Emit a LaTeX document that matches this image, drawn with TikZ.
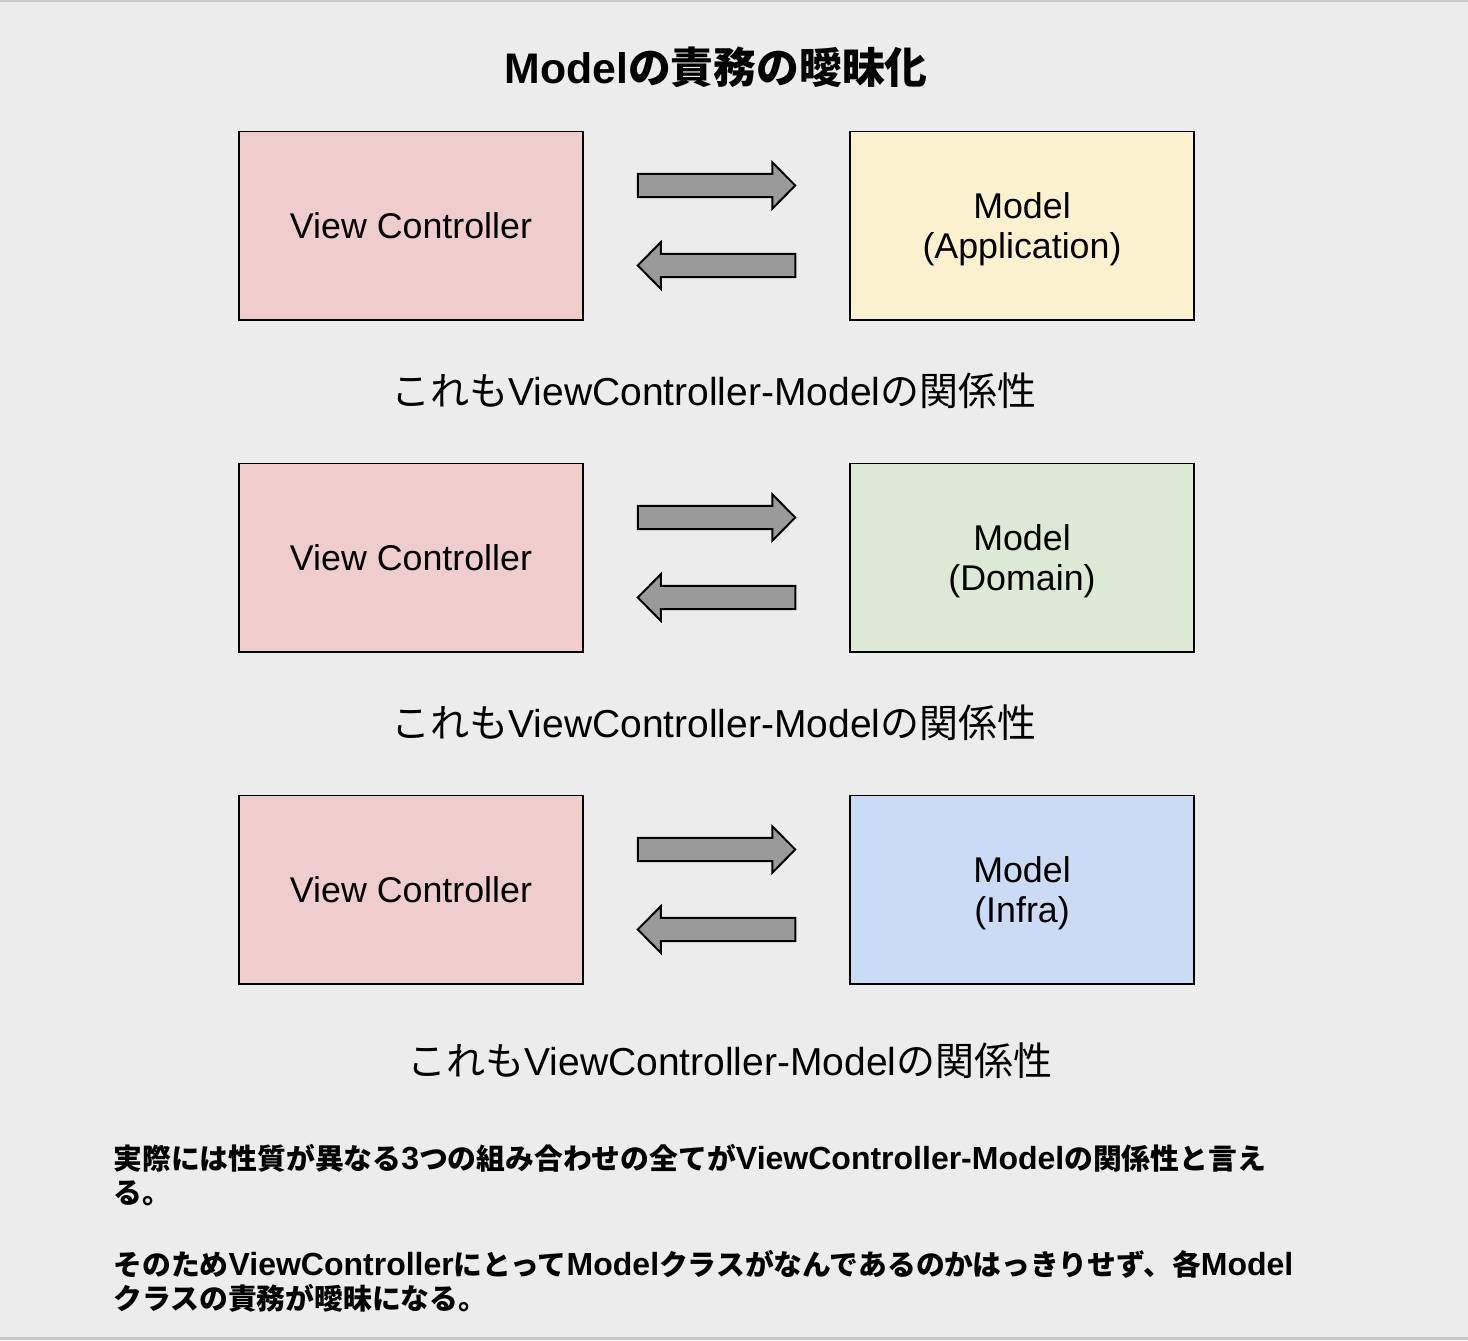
\documentclass[tikz,border=0pt]{standalone}
\usepackage{fontspec}
\setmainfont{Liberation Sans}
\newfontfamily\cjk{Noto Sans CJK JP}
\usepackage{xcolor}
\usetikzlibrary{calc}
\definecolor{pagebg}{HTML}{ECECEC}
\definecolor{pageedge}{HTML}{C8C8C8}
\definecolor{vcred}{HTML}{EFCDCD}
\definecolor{appyellow}{HTML}{FCF1CF}
\definecolor{domgreen}{HTML}{DCE9D5}
\definecolor{infblue}{HTML}{CBDAF5}
\definecolor{arrowgray}{HTML}{9A9A9A}

\newcommand\jp[1]{{\cjk\fontsize{14.4}{17}\selectfont #1}}
% block arrow from one coordinate to another (horizontal)
\newcommand\blockarrow[2]{%
  \draw[blockarr] let \p1=(#1), \p2=(#2), \n1={sign(\x2-\x1)} in
    (\x1,\y1+5.85pt) -- (\x2-\n1*11.5pt,\y1+5.85pt) -- (\x2-\n1*11.5pt,\y1+11.6pt)
    -- (\x2,\y1) -- (\x2-\n1*11.5pt,\y1-11.6pt) -- (\x2-\n1*11.5pt,\y1-5.85pt)
    -- (\x1,\y1-5.85pt) -- cycle;}

\tikzset{
  layerbox/.style={draw=black, line width=0.75pt, minimum width=172pt,
    minimum height=94.25pt, inner sep=0pt, align=center, text depth=0pt,
    font=\fontsize{17.9}{20}\selectfont},
  blockarr/.style={fill=arrowgray, draw=black, line width=1pt, line join=miter},
  relcaption/.style={anchor=base, inner sep=0pt, font=\fontsize{19.5}{23}\selectfont},
  notetext/.style={anchor=base west, inner sep=0pt, align=left,
    font=\fontsize{16}{17}\selectfont\bfseries},
}

\begin{document}
\begin{tikzpicture}[x=0.5pt, y=-0.5pt]
  \fill[pagebg] (0,0) rectangle (1468,1340);
  \useasboundingbox (0,0) rectangle (1468,1340);
  \fill[pageedge] (0,0) rectangle (1468,2);
  \fill[pageedge] (0,1337) rectangle (1468,1340);

  \node[anchor=base, inner sep=0pt, font=\fontsize{21.4}{25}\selectfont\bfseries]
    (title) at (716,83) {Model{\cjk の責務の曖昧化}};

  % three VC--Model pairs
  \foreach \r/\kind/\col in {0/Application/appyellow, 1/Domain/domgreen, 2/Infra/infblue}{
    \node[layerbox, fill=vcred] (vc\r) at (411,225.5+332*\r) {View Controller};
    \node[layerbox, fill=\col] (md\r) at (1022,225.5+332*\r) {Model\\(\kind)};
    \coordinate (rs\r) at ($(vc\r.east)+(54,-40)$);
    \coordinate (re\r) at ($(md\r.west)+(-54,-40)$);
    \coordinate (ls\r) at ($(md\r.west)+(-54,40)$);
    \coordinate (le\r) at ($(vc\r.east)+(54,40)$);
    \blockarrow{rs\r}{re\r}
    \blockarrow{ls\r}{le\r}
  }

  \node[relcaption] (cap0) at (714,405) {{\cjk これも}ViewController-Model{\cjk の関係性}};
  \node[relcaption] (cap1) at (714,737) {{\cjk これも}ViewController-Model{\cjk の関係性}};
  \node[relcaption] (cap2) at (730,1075) {{\cjk これも}ViewController-Model{\cjk の関係性}};

  \node[notetext] (note1) at (113,1203)
    {\jp{実際には性質が異なる}3\jp{つの組み合わせの全てが}ViewController-Model\jp{の関係性と言え}\\\jp{る。}};
  \node[notetext] (note2) at (113,1309)
    {\jp{そのため}ViewController\jp{にとって}Model\jp{クラスがなんであるのかはっきりせず、各}Model\\\jp{クラスの責務が曖昧になる。}};
\end{tikzpicture}
\end{document}
